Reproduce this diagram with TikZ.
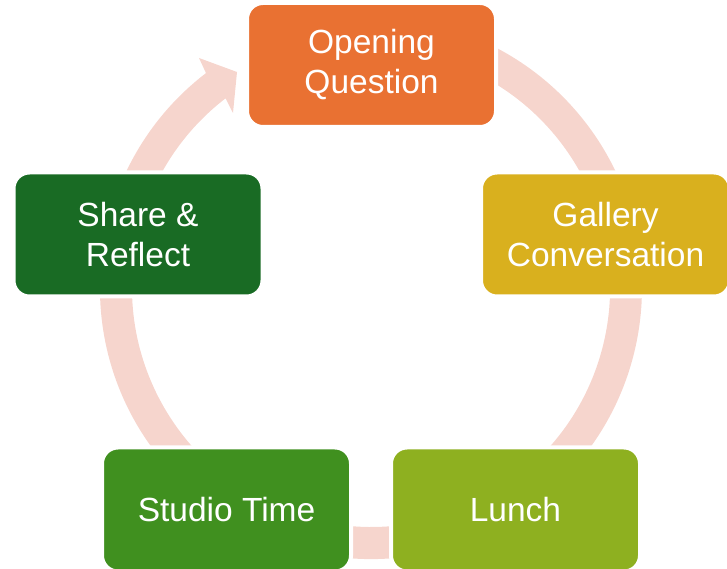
\documentclass[tikz,border=0pt]{standalone}
\usepackage{fontspec}
\setmainfont{Liberation Sans}
\definecolor{ringc}{HTML}{F6D5CD}
\definecolor{cOQ}{HTML}{E97132}
\definecolor{cGC}{HTML}{D9B01E}
\definecolor{cLU}{HTML}{8EB020}
\definecolor{cST}{HTML}{40901F}
\definecolor{cSR}{HTML}{196B24}
\begin{document}
\begin{tikzpicture}[x=1pt,y=1pt,
  stagebox/.style={rounded corners=16pt, draw=white, line width=4pt,
    minimum width=249pt, minimum height=124pt, inner sep=0pt,
    align=center, text=white, font=\fontsize{33.5}{40}\selectfont}]
\useasboundingbox (0,0) rectangle (727,569);
% ring with arrowhead
\fill[ringc] (206.0,495.9) arc[start angle=127.5, end angle=435, radius=271pt]
  -- (432.9,511.9) arc[start angle=435, end angle=127.5, radius=239pt]
  -- (233,456) -- (237,497) -- (199,511) -- cycle;
% stages
\node[stagebox, fill=cOQ] (oq) at (371.5,504) {Opening\\Question};
\node[stagebox, fill=cGC] (gc) at (605.5,334.5) {Gallery\\Conversation};
\node[stagebox, fill=cLU] (lu) at (515.5,59.5) {Lunch};
\node[stagebox, fill=cST] (st) at (226.5,59.5) {Studio Time};
\node[stagebox, fill=cSR] (sr) at (138,334.5) {Share \&\\Reflect};
\end{tikzpicture}
\end{document}
